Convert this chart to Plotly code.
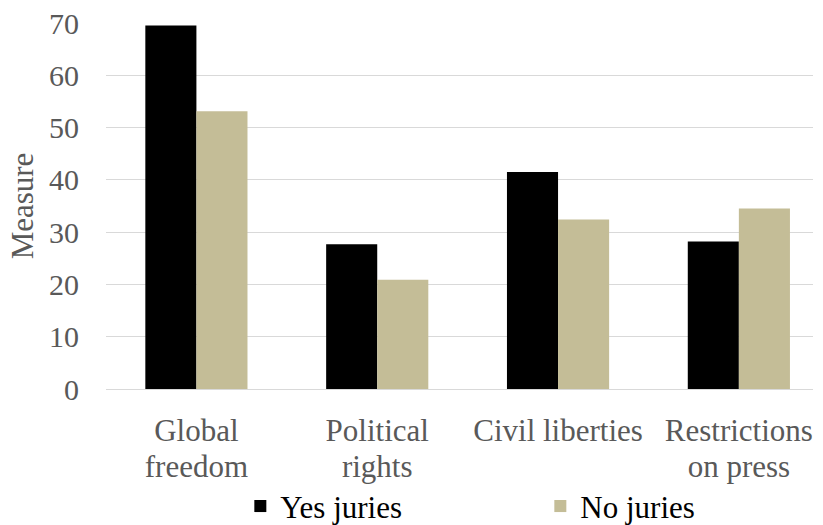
import plotly.graph_objects as go

categories = ["Global freedom", "Political rights", "Civil liberties", "Restrictions on press"]
label_line1 = ["Global", "Political", "Civil liberties", "Restrictions"]
label_line2 = ["freedom", "rights", "", "on press"]
yes_juries = [69.5, 27.7, 41.5, 28.2]
no_juries = [53.1, 20.9, 32.4, 34.5]

FONT = "Liberation Serif"
GRAY = "#595959"

fig = go.Figure()
fig.add_trace(go.Bar(name="Yes juries", x=categories, y=yes_juries,
                     marker=dict(color="#000000", line=dict(width=0))))
fig.add_trace(go.Bar(name="No juries", x=categories, y=no_juries,
                     marker=dict(color="#C4BD97", line=dict(width=0))))

idx = list(range(len(categories)))
# the last category slot runs slightly past the right edge of the plot area
cat_range = [-0.5, 3.41]

# empty carrier trace so the overlaid second-line axis gets drawn
fig.add_trace(go.Scatter(x=idx, y=[None] * len(idx), xaxis="x2", yaxis="y",
                         mode="markers", showlegend=False, hoverinfo="skip"))

fig.update_layout(
    width=823, height=525,
    margin=dict(l=106, r=10, t=23, b=136, autoexpand=False),
    paper_bgcolor="white", plot_bgcolor="white",
    barmode="group", bargap=0.435, bargroupgap=0,
    font=dict(family=FONT, size=31, color=GRAY),
    showlegend=True,
    legend=dict(orientation="h", x=0.19, xanchor="left", y=-0.247, yanchor="top",
                font=dict(family=FONT, size=31, color="#000000"), entrywidth=255,
                itemwidth=30, bgcolor="rgba(0,0,0,0)"),
    # first line of each category label
    xaxis=dict(range=cat_range, showgrid=False, showline=False, ticks="", automargin=False,
               tickvals=categories, ticktext=label_line1, ticklabelstandoff=20,
               tickfont=dict(family=FONT, size=31, color=GRAY)),
    # second line of each category label, on an overlaid axis for tighter line spacing
    xaxis2=dict(overlaying="x", anchor="y", side="bottom", type="linear", range=cat_range,
                showgrid=False, showline=False, zeroline=False, ticks="", automargin=False,
                tickvals=idx, ticktext=label_line2, ticklabelstandoff=56,
                tickfont=dict(family=FONT, size=31, color=GRAY)),
    yaxis=dict(range=[0, 70], dtick=10, showgrid=True, gridcolor="#D9D9D9", gridwidth=1,
               zeroline=True, zerolinecolor="#D9D9D9", zerolinewidth=1,
               showline=False, ticks="", ticklabelstandoff=26, automargin=False,
               tickfont=dict(family=FONT, size=30, color=GRAY),
               title=dict(text="Measure", standoff=6,
                          font=dict(family=FONT, size=31, color=GRAY))),
)

fig.write_html("out.html")
